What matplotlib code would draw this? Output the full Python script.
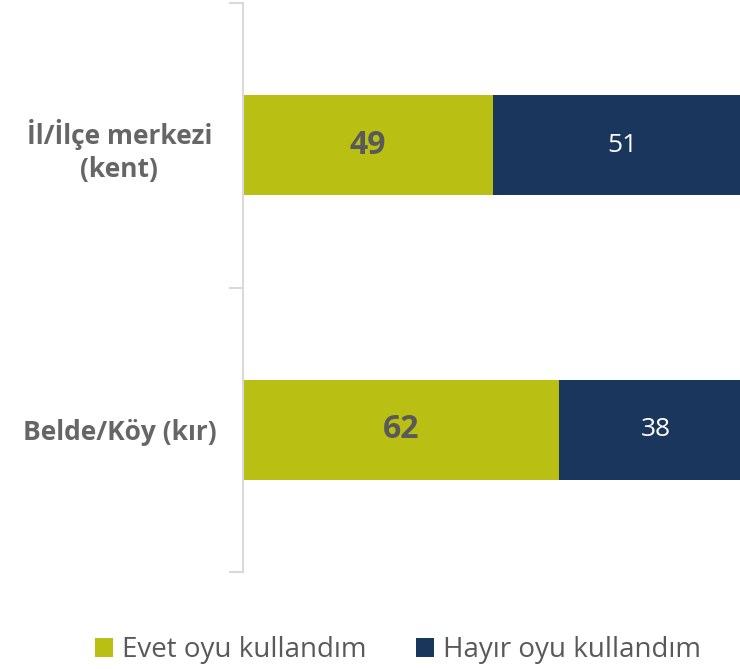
import matplotlib.pyplot as plt
import numpy as np

categories = ['İl/İlçe merkezi\n(kent)', 'Belde/Köy (kır)']
evet = [49, 62]
hayir = [51, 38]
series_names = ['Evet oyu kullandım', 'Hayır oyu kullandım']

green = '#B9C013'
navy = '#1B365D'
gray = '#666666'

plt.rcParams['font.family'] = ['Open Sans', 'DejaVu Sans']

fig = plt.figure(figsize=(7.4, 6.69), dpi=100)
ax = fig.add_axes([243 / 740, 97 / 669, 497 / 740, 569 / 669])

y = np.array([0.5, 1.5])
ax.barh(y, evet, height=0.35, color=green, label=series_names[0])
ax.barh(y, hayir, left=evet, height=0.35, color=navy, label=series_names[1])

for yi, e, h in zip(y, evet, hayir):
    ax.text(e / 2, yi, str(e), ha='center', va='center', fontsize=23,
            fontweight='bold', color='#595959')
    ax.text(e + h / 2, yi, str(h), ha='center', va='center', fontsize=19,
            color='white')

# bars run off the right edge a little in the original
ax.set_xlim(0, 97.6)
ax.set_ylim(2, 0)
ax.set_yticks([0, 1, 2])
ax.set_yticklabels([])
ax.set_yticks(y, minor=True)
ax.set_yticklabels(categories, minor=True, fontsize=19, fontweight='bold',
                   color=gray, ha='center', multialignment='center',
                   linespacing=1.25)
ax.tick_params(axis='y', which='minor', length=0, pad=89)
ax.tick_params(axis='y', which='major', length=10, color='#D9D9D9', width=1.5)
ax.set_xticks([])
for s in ['top', 'right', 'bottom']:
    ax.spines[s].set_visible(False)
ax.spines['left'].set_color('#D9D9D9')
ax.spines['left'].set_linewidth(1.5)

fig.legend(loc='center', bbox_to_anchor=(0.538, 0.028), ncol=2,
           frameon=False, fontsize=20, handlelength=0.65, handleheight=0.65,
           handletextpad=0.32, columnspacing=1.8, labelcolor='#595959',
           borderpad=0)

plt.savefig('out.png', dpi=100)
